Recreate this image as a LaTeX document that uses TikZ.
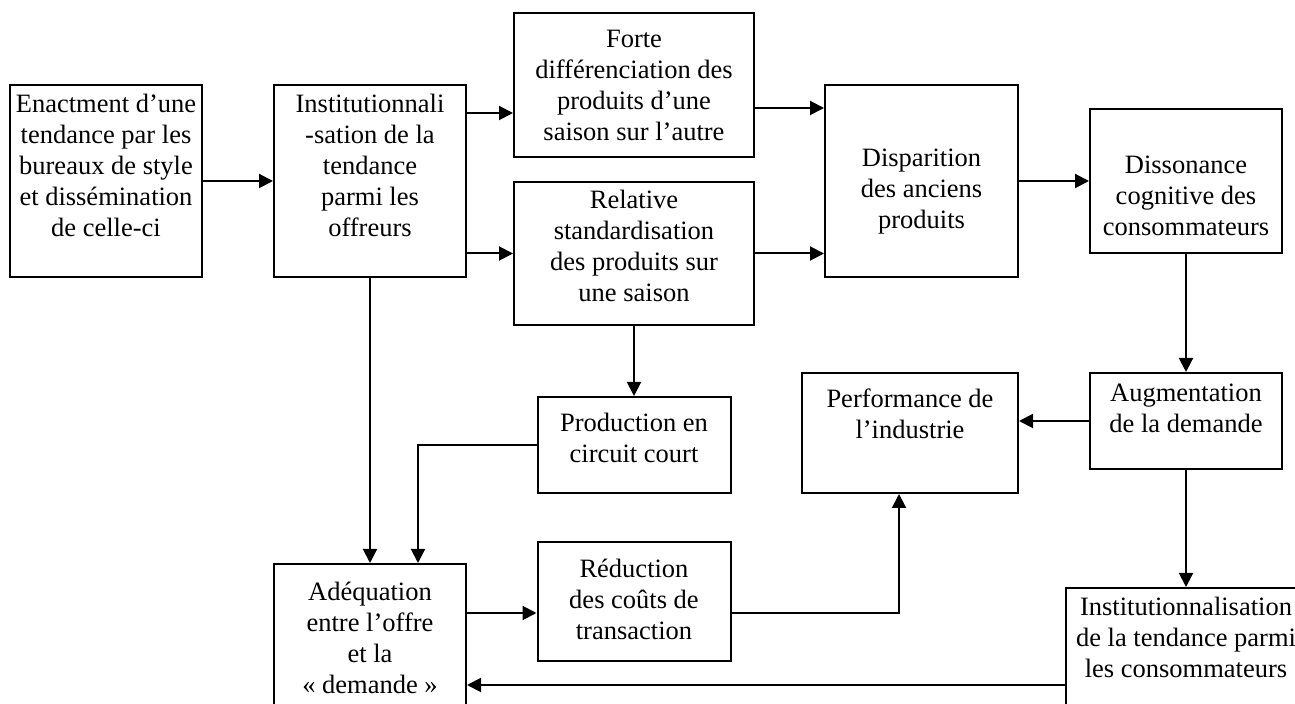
\documentclass[tikz,border=0pt]{standalone}
\usepackage{fontspec}
\setmainfont{Liberation Serif}
\usetikzlibrary{arrows.meta}
\newlength{\pxu}
\setlength{\pxu}{0.5pt}
% width, height, first baseline, text
\newcommand{\boxtext}[4]{\parbox[c][#2\pxu][t]{#1\pxu}{\centering\rule{0pt}{#3\pxu}#4}}

\begin{document}
\begin{tikzpicture}[x=0.5pt, y=-0.5pt,
    box/.style={draw, line width=1pt, inner sep=0pt, font=\fontsize{13.25pt}{15.5pt}\selectfont},
    arr/.style={line width=1pt, -{Triangle[length=7pt, width=7pt]}}]
    \clip (0,0) rectangle (1295,704);

    % Upper chain
    \node[box] (enact) at (106,181) {\boxtext{192}{192}{28}{Enactment d’une\\ tendance par les\\ bureaux de style\\ et dissémination\\ de celle-ci}};
    \node[box] (inst) at (370,181) {\boxtext{192}{192}{28}{Institutionnali\\ -sation de la\\ tendance\\ parmi les\\ offreurs}};
    \node[box] (forte) at (634,85) {\boxtext{240}{144}{35}{Forte\\ différenciation des\\ produits d’une\\ saison sur l’autre}};
    \node[box] (relative) at (634,253.5) {\boxtext{240}{143}{27}{Relative\\ standardisation\\ des produits sur\\ une saison}};
    \node[box] (disp) at (921.5,181) {\boxtext{193}{192}{82}{Disparition\\ des anciens\\ produits}};
    \node[box] (diss) at (1186,181) {\boxtext{192}{144}{65}{Dissonance\\ cognitive des\\ consommateurs}};

    % Lower part
    \node[box] (aug) at (1186,421) {\boxtext{192}{96}{29}{Augmentation\\ de la demande}};
    \node[box] (perf) at (910,433) {\boxtext{216}{120}{35}{Performance de\\ l’industrie}};
    \node[box] (prod) at (634,445) {\boxtext{193}{96}{35}{Production en\\ circuit court}};
    \node[box] (red) at (634,601.5) {\boxtext{193}{119}{36}{Réduction\\ des coûts de\\ transaction}};
    \node[box] (adeq) at (370,636) {\boxtext{192}{144}{36}{Adéquation\\ entre l’offre\\ et la\\ «~demande~»}};
    \node[box] (inst2) at (1186,658) {\boxtext{240}{140}{27}{Institutionnalisation\\ de la tendance parmi\\ les consommateurs}};

    % Arrows, top
    \draw[arr] (enact) -- (inst);
    \draw[arr] (inst.east |- 0,113) -- (forte.west |- 0,113);
    \draw[arr] (inst.east |- relative) -- (relative);
    \draw[arr] (forte.east |- 0,108) -- (disp.west |- 0,108);
    \draw[arr] (relative) -- (relative -| disp.west);
    \draw[arr] (disp) -- (diss);
    \draw[arr] (diss) -- (aug);

    % Arrows, bottom
    \draw[arr] (aug.west) -- (aug.west -| perf.east);
    \draw[arr] (aug) -- (inst2);
    \draw[arr] (inst) -- (adeq);
    \draw[arr] (relative) -- (prod);
    \draw[arr] (prod.west) -| ([xshift=24pt]adeq.north);
    \draw[arr] (adeq.east |- 0,613) -- (red.west |- 0,613);
    \draw[arr] (red.east |- 0,613) -| ([xshift=-5.5pt]perf.south);
    \draw[arr] (inst2.west |- 0,685) -- (adeq.east |- 0,685);
\end{tikzpicture}
\end{document}
